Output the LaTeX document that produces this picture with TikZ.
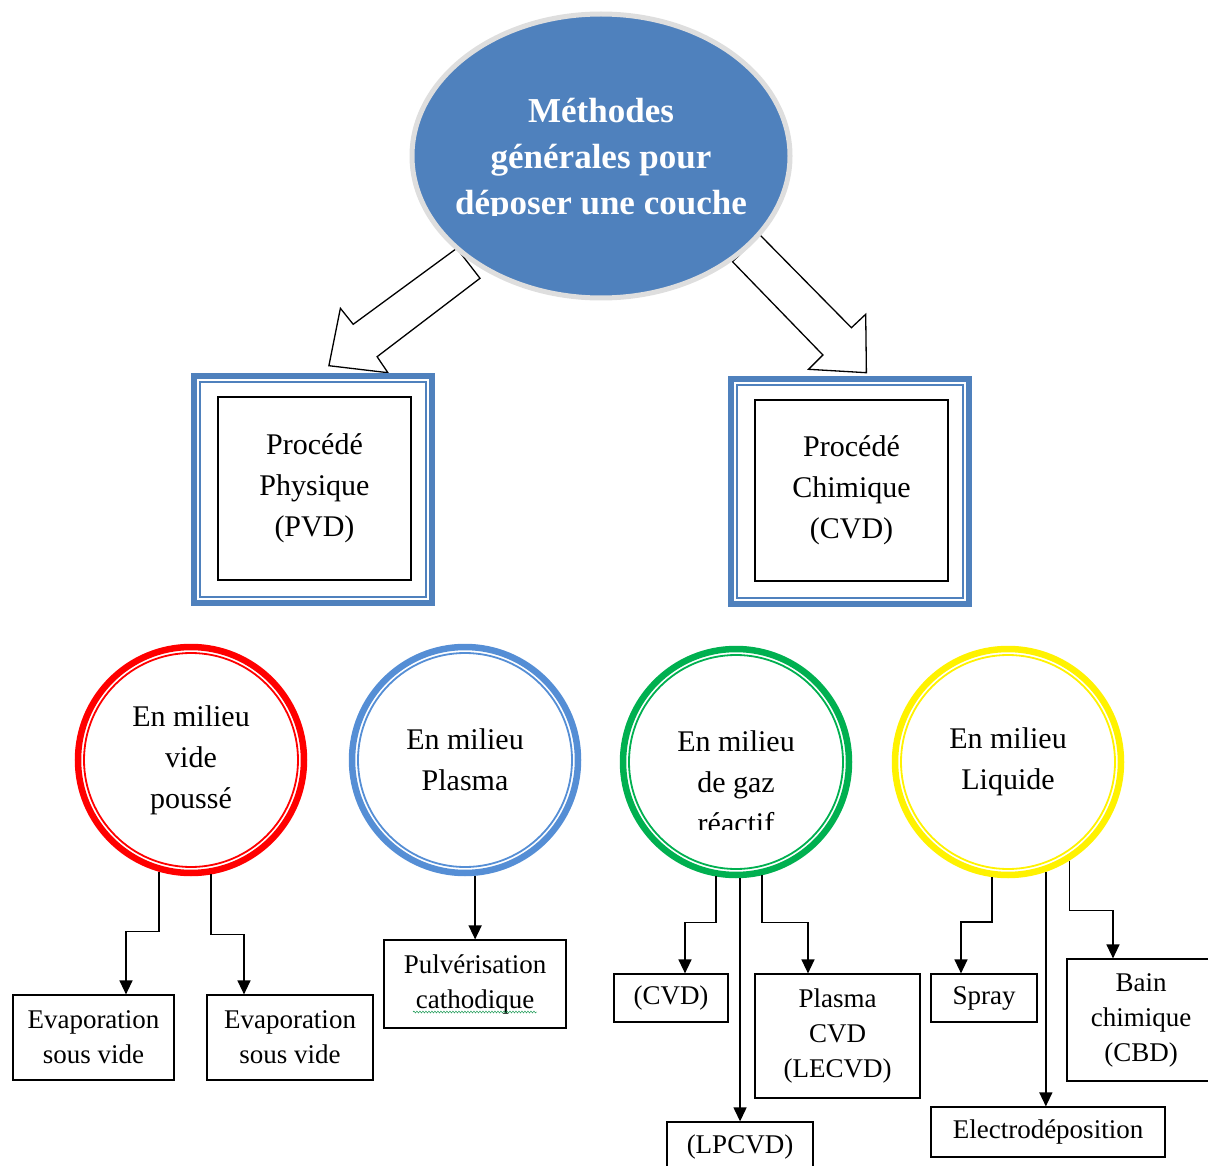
\documentclass[tikz,border=0pt]{standalone}
\usepackage{fontspec}
\setmainfont{Liberation Serif}
\usetikzlibrary{shapes.geometric, arrows.meta, decorations.pathmorphing}
\definecolor{titleblue}{HTML}{4F81BD}
\definecolor{plasmablue}{HTML}{558ED5}
\definecolor{gazgreen}{HTML}{00B050}

\begin{document}
\begin{tikzpicture}[x=1pt, y=-1pt,
    titre/.style={ellipse, fill=titleblue, draw=black!13, line width=5pt, minimum width=378pt, minimum height=284pt},
    titretexte/.style={text=white, align=center, font=\fontsize{35}{46}\selectfont\bfseries},
    creuse/.style={draw, line width=1.3pt, fill=white, line join=miter},
    procede/.style={draw, line width=1.5pt, minimum width=193pt, minimum height=183pt, align=center, font=\fontsize{30}{41}\selectfont},
    cadre/.style={titleblue},
    milieu/.style={circle, line width=6.5pt, minimum size=226pt, inner sep=0pt, align=center, font=\fontsize{30}{41}\selectfont},
    boite/.style={draw, line width=1.2pt, inner sep=0pt, align=center, font=\fontsize{27}{35}\selectfont},
    fleche/.style={-{Triangle[width=13pt,length=14pt]}, line width=1.4pt}
  ]
\useasboundingbox (0,0) rectangle (1208,1166);

        % Hollow arrows from the title to the two procedes
        \draw[creuse] (456.8,248.3) -- (353.2,324.3) -- (340.4,308.3) -- (328.9,365.7)
            -- (387.9,372.7) -- (377.1,356.7) -- (480,278.3) -- cycle;
        \draw[creuse] (760,235) -- (851.4,327.7) -- (865.7,314.3) -- (866.4,372.7)
            -- (808.6,369.3) -- (822.9,355) -- (732.5,261.7) -- cycle;

        % Title ellipse
        \node[titre] (methodes) at (601,156) {};
        \begin{scope}
            \clip (0,0) rectangle (1208,216);
            \node[titretexte] (titrenom) at (601,160) {Méthodes\\générales pour\\déposer une couche};
        \end{scope}

        % Physical and chemical procedes
        \node[procede] (pvd) at (314.5,488.5) {Procédé\\Physique\\(PVD)};
        \node[procede, minimum height=181pt] (cvd) at (851.5,490.5) {Procédé\\Chimique\\(CVD)};
        \foreach \n in {pvd, cvd} {
            \draw[cadre, line width=6pt] ([shift={(-23,-20)}]\n.north west) rectangle ([shift={(20,22)}]\n.south east);
            \draw[cadre, line width=2pt] ([shift={(-17,-14)}]\n.north west) rectangle ([shift={(14,16)}]\n.south east);
        }

        % Circles for the four media
        \node[milieu, draw=red] (vide) at (191,760) {En milieu\\vide\\poussé};
        \node[milieu, draw=plasmablue] (plasma) at (465,760) {En milieu\\Plasma};
        \node[milieu, draw=gazgreen] (gaz) at (736,762) {};
        \node[milieu, draw=yellow] (liquide) at (1008,762) {En milieu\\Liquide};
        \foreach \n/\c in {vide/red, plasma/plasmablue, gaz/gazgreen, liquide/yellow}
            \draw[\c, line width=1.8pt] (\n.center) circle (107pt);
        \begin{scope}
            \clip (600,700) rectangle (880,829);
            \node[align=center, font=\fontsize{30}{41}\selectfont] (gaznom) at (736,782) {En milieu\\de gaz\\réactif};
        \end{scope}

        % Boxes of the techniques
        \node[boite, minimum width=161pt, minimum height=85pt] (evapA) at (93.5,1037.5) {Evaporation\\sous vide};
        \node[boite, minimum width=166pt, minimum height=85pt] (evapB) at (290,1037.5) {Evaporation\\sous vide};
        \node[boite, minimum width=182pt, minimum height=88pt] (pulv) at (475,984) {Pulvérisation\\cathodique};
        \node[boite, minimum width=114pt, minimum height=48pt] (cvdbas) at (671,998) {(CVD)};
        \node[boite, minimum width=165pt, minimum height=124pt] (lecvd) at (837.5,1036) {Plasma\\CVD\\(LECVD)};
        \node[boite, minimum width=146pt, minimum height=50pt] (lpcvd) at (740,1147) {(LPCVD)};
        \node[boite, minimum width=106pt, minimum height=48pt] (spray) at (984,998) {Spray};
        \node[boite, minimum width=148pt, minimum height=122pt] (bain) at (1141,1020) {Bain\\chimique\\(CBD)};
        \node[boite, minimum width=234pt, minimum height=50pt] (electro) at (1048,1132) {Electrodéposition};
        \draw[gazgreen!80!black, decorate, decoration={snake, amplitude=1pt, segment length=3pt}]
            ([shift={(-62,28)}]pulv.center) -- ++(124,0);

        % Draw arrows from the circles to the boxes
        \draw[fleche] (vide.254) -- ++(0,60) -| ([xshift=32.5pt]evapA.north);
        \draw[fleche] (vide.280) -- ++(0,60) -| ([xshift=-46pt]evapB.north);
        \draw[fleche] (plasma.275) -- (plasma.275 |- pulv.north);
        \draw[fleche] (gaz.260) -- ++(0,46) -| ([xshift=14pt]cvdbas.north);
        \draw[fleche] (gaz.272) -- (gaz.272 |- lpcvd.north);
        \draw[fleche] (gaz.283) -- ++(0,47) -| ([xshift=-29.5pt]lecvd.north);
        \draw[fleche] (liquide.262) -- ++(0,45) -| ([xshift=-23pt]spray.north);
        \draw[fleche] (liquide.289) -- (liquide.289 |- electro.north);
        \draw[fleche] (liquide.302) -- ++(0,50) -| ([xshift=-28pt]bain.north);
\end{tikzpicture}
\end{document}
